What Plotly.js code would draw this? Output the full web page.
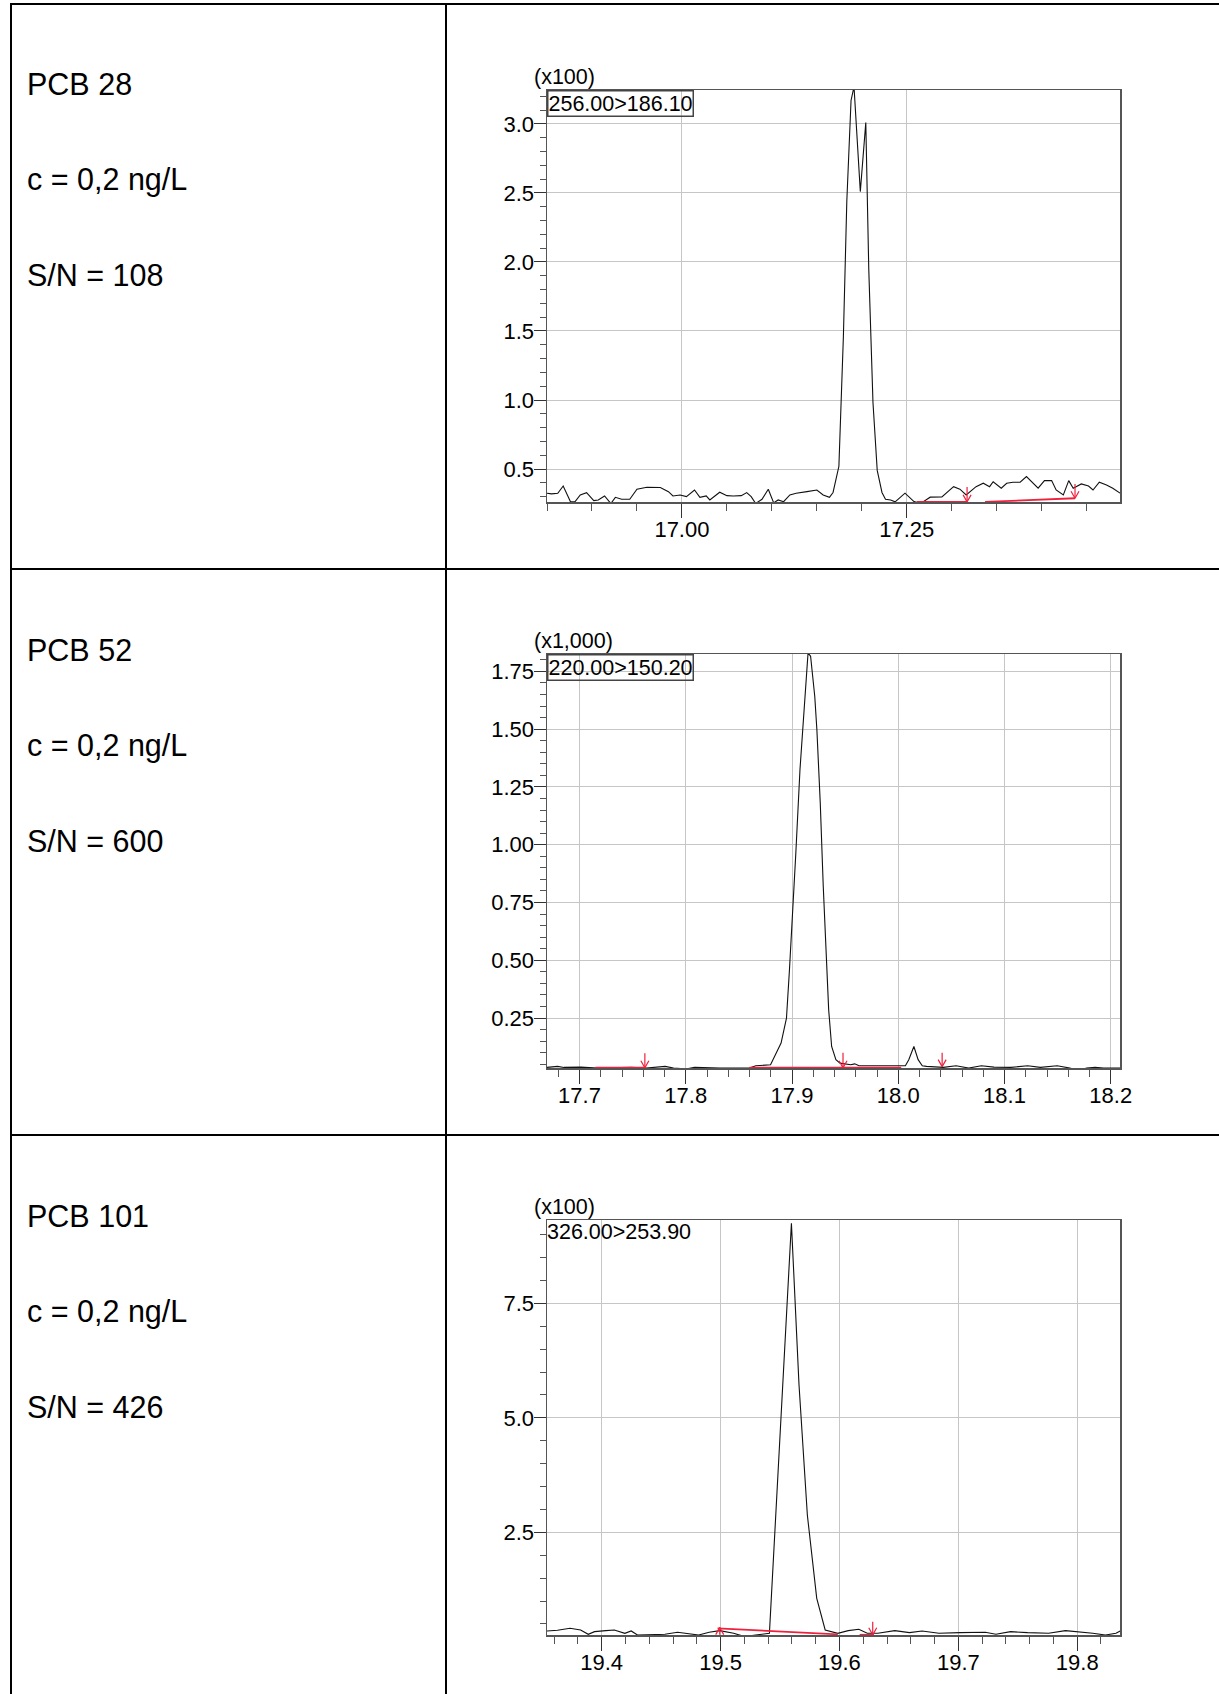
<!DOCTYPE html>
<html>
<head>
<meta charset="utf-8">
<script src="https://cdn.plot.ly/plotly-3.0.1.min.js"></script>
<style>
html,body{margin:0;padding:0;background:#fff;}
#chart{width:1219px;height:1694px;}
</style>
</head>
<body>
<div id="chart"></div>
<script>
// ---------------- data ----------------
const compounds = ['PCB 28', 'PCB 52', 'PCB 101'];
const concentrations = ['c = 0,2 ng/L', 'c = 0,2 ng/L', 'c = 0,2 ng/L'];
const signalToNoise = ['S/N = 108', 'S/N = 600', 'S/N = 426'];
const transitions = ['256.00>186.10', '220.00>150.20', '326.00>253.90'];
const intensityScales = ['(x100)', '(x1,000)', '(x100)'];

// PCB 28 chromatogram (retention time, min / intensity x100)
const pcb28Time = [16.850,16.855,16.862,16.868,16.876,16.881,16.887,16.894,16.902,16.907,16.914,16.921,16.926,16.933,16.942,16.950,16.961,16.976,16.985,16.990,16.998,17.005,17.014,17.020,17.027,17.031,17.042,17.050,17.057,17.066,17.072,17.077,17.082,17.089,17.096,17.102,17.107,17.113,17.120,17.127,17.139,17.150,17.157,17.164,17.168,17.1745,17.1795,17.1833,17.188,17.1913,17.1983,17.2044,17.2077,17.2124,17.2171,17.2224,17.2263,17.232,17.237,17.248,17.258,17.263,17.268,17.276,17.289,17.302,17.309,17.316,17.327,17.335,17.342,17.346,17.355,17.361,17.368,17.376,17.383,17.390,17.396,17.403,17.411,17.416,17.424,17.430,17.435,17.444,17.452,17.457,17.464,17.472,17.479,17.487];
const pcb28Signal = [0.324,0.320,0.324,0.377,0.264,0.262,0.312,0.329,0.271,0.276,0.305,0.250,0.295,0.281,0.281,0.353,0.368,0.366,0.336,0.305,0.312,0.300,0.348,0.295,0.305,0.276,0.332,0.307,0.305,0.307,0.329,0.300,0.250,0.281,0.353,0.255,0.276,0.263,0.312,0.324,0.336,0.348,0.312,0.295,0.330,0.52,1.46,2.44,3.17,3.27,2.51,3.01,1.95,0.98,0.49,0.33,0.281,0.276,0.262,0.325,0.264,0.255,0.262,0.296,0.298,0.372,0.354,0.312,0.372,0.397,0.372,0.408,0.361,0.397,0.404,0.404,0.445,0.397,0.361,0.416,0.416,0.348,0.312,0.416,0.361,0.392,0.377,0.348,0.404,0.384,0.361,0.325];
const pcb28BaselineTime = [17.261, 17.317, null, 17.337, 17.437];
const pcb28BaselineSignal = [0.262, 0.262, null, 0.262, 0.288];
const pcb28MarkerTime = [17.317, 17.437];
const pcb28MarkerTip = [0.262, 0.288];
const pcb28MarkerTail = [0.370, 0.392];

// PCB 52 chromatogram (intensity x1,000)
const pcb52Time = [17.6694,17.6794,17.6853,17.7012,17.7171,17.7329,17.7488,17.7627,17.7726,17.7806,17.7885,17.8004,17.8083,17.8202,17.8321,17.8480,17.8599,17.8659,17.8798,17.8897,17.8948,17.8976,17.9004,17.9036,17.9075,17.9115,17.9151,17.9175,17.9214,17.9234,17.9266,17.9294,17.9325,17.9345,17.9373,17.9413,17.9452,17.9552,17.9590,17.9631,17.9790,17.9948,18.0067,18.0099,18.0147,18.0187,18.0226,18.0266,18.0425,18.0544,18.0663,18.0782,18.0901,18.1060,18.1218,18.1337,18.1496,18.1615,18.1694,18.1774,18.1853,18.1933,18.2087];
const pcb52Signal = [0.0365,0.0409,0.0365,0.0380,0.0337,0.0365,0.0365,0.0337,0.0380,0.0409,0.0337,0.0300,0.0365,0.0337,0.0337,0.0337,0.0337,0.0437,0.0480,0.142,0.250,0.459,0.675,0.964,1.325,1.613,1.830,1.815,1.642,1.498,1.180,0.820,0.459,0.286,0.127,0.070,0.055,0.048,0.052,0.044,0.044,0.044,0.044,0.070,0.127,0.070,0.044,0.041,0.0365,0.0437,0.0337,0.0437,0.0380,0.0365,0.0437,0.0365,0.0437,0.0337,0.0236,0.0337,0.0365,0.0337,0.0337];
const pcb52BaselineTime = [17.715, 17.7627, null, 17.860, 18.0028];
const pcb52BaselineSignal = [0.035, 0.035, null, 0.035, 0.035];
const pcb52MarkerTime = [17.7615, 17.948, 18.0413];
const pcb52MarkerTip = [0.035, 0.035, 0.040];
const pcb52MarkerTail = [0.098, 0.100, 0.100];

// PCB 101 chromatogram (intensity x100)
const pcb101Time = [19.3539,19.3628,19.3734,19.3823,19.3887,19.3940,19.4035,19.4106,19.4195,19.4248,19.4301,19.4390,19.4532,19.4638,19.4745,19.4816,19.4904,19.4993,19.5110,19.5206,19.5294,19.5411,19.5596,19.5660,19.5730,19.5809,19.5880,19.5986,19.6074,19.6163,19.6234,19.6323,19.6465,19.6589,19.6695,19.6837,19.7014,19.7227,19.7316,19.7440,19.7582,19.7759,19.7901,19.8007,19.8131,19.8238,19.8326,19.8362];
const pcb101Signal = [0.346,0.361,0.404,0.368,0.273,0.331,0.353,0.368,0.295,0.346,0.258,0.258,0.273,0.317,0.273,0.258,0.317,0.353,0.295,0.222,0.258,0.295,9.25,5.717,2.878,1.059,0.368,0.295,0.353,0.382,0.295,0.295,0.353,0.309,0.346,0.295,0.309,0.317,0.273,0.331,0.309,0.295,0.353,0.331,0.295,0.258,0.295,0.346];
const pcb101BaselineTime = [19.4975, 19.5986, null, 19.617, 19.629];
const pcb101BaselineSignal = [0.404, 0.273, null, 0.262, 0.262];
const pcb101MarkerTime = [19.4993, 19.628];
const pcb101MarkerTip = [0.420, 0.262];
const pcb101MarkerTail = [0.262, 0.550];

// ---------------- layout helpers ----------------
const W = 1219, H = 1694;
const fx = p => p / W;
const fy = p => 1 - p / H;
const FONT = 'Liberation Sans, Arial, Helvetica, sans-serif';
const BLACK = '#000000';
const RED = '#f0203c';

const panels = [
  {time: pcb28Time, signal: pcb28Signal, bt: pcb28BaselineTime, bs: pcb28BaselineSignal,
   mt: pcb28MarkerTime, mtip: pcb28MarkerTip, mtail: pcb28MarkerTail,
   box: {l: 547, r: 1120, t: 90, b: 502}, xr: [16.85, 17.487], yr: [0.261, 3.246],
   xd: 0.25, x0: 17.0, xf: '.2f', xm: 0.05, yd: 0.5, y0: 0, yf: '.1f', ym: 0.1, boxed: true},
  {time: pcb52Time, signal: pcb52Signal, bt: pcb52BaselineTime, bs: pcb52BaselineSignal,
   mt: pcb52MarkerTime, mtip: pcb52MarkerTip, mtail: pcb52MarkerTail,
   box: {l: 547, r: 1120, t: 654, b: 1068}, xr: [17.6694, 18.2087], yr: [0.034, 1.825],
   xd: 0.1, x0: 17.0, xf: '.1f', xm: 0.02, yd: 0.25, y0: 0, yf: '.2f', ym: 0.05, boxed: true},
  {time: pcb101Time, signal: pcb101Signal, bt: pcb101BaselineTime, bs: pcb101BaselineSignal,
   mt: pcb101MarkerTime, mtip: pcb101MarkerTip, mtail: pcb101MarkerTail,
   box: {l: 547, r: 1120, t: 1220, b: 1635}, xr: [19.354, 19.836], yr: [0.258, 9.32],
   xd: 0.1, x0: 19.0, xf: '.1f', xm: 0.02, yd: 2.5, y0: 0, yf: '.1f', ym: 0.5, boxed: false}
];

const traces = [];
const layout = {
  width: W, height: H,
  margin: {l: 0, r: 0, t: 0, b: 0, pad: 0},
  paper_bgcolor: '#ffffff', plot_bgcolor: '#ffffff',
  showlegend: false,
  font: {family: FONT, color: BLACK, size: 20},
  annotations: [], shapes: []
};

panels.forEach((p, i) => {
  const n = i === 0 ? '' : String(i + 1);
  const xa = 'x' + n, ya = 'y' + n;
  const tickFont = {family: FONT, size: 22, color: BLACK};
  layout['xaxis' + n] = {
    domain: [fx(p.box.l), fx(p.box.r)], anchor: ya, range: p.xr,
    tickmode: 'linear', dtick: p.xd, tick0: p.x0, tickformat: p.xf,
    ticks: 'outside', ticklen: 14, tickwidth: 1, tickcolor: '#333',
    ticklabelstandoff: -7,
    minor: {dtick: p.xm, tick0: p.x0, ticks: 'outside', ticklen: 7, tickwidth: 1, tickcolor: '#555', showgrid: false},
    showgrid: true, gridcolor: '#c6c6c6', gridwidth: 1,
    showline: true, linecolor: '#555', linewidth: 1.5, mirror: true,
    zeroline: false, tickfont: tickFont, layer: 'below traces', fixedrange: true
  };
  layout['yaxis' + n] = {
    domain: [fy(p.box.b), fy(p.box.t)], anchor: xa, range: p.yr,
    tickmode: 'linear', dtick: p.yd, tick0: p.y0, tickformat: p.yf,
    ticks: 'outside', ticklen: 12, tickwidth: 1, tickcolor: '#333',
    ticklabelstandoff: -5,
    minor: {dtick: p.ym, tick0: p.y0, ticks: 'outside', ticklen: 6, tickwidth: 1, tickcolor: '#555', showgrid: false},
    showgrid: true, gridcolor: '#c6c6c6', gridwidth: 1,
    showline: true, linecolor: '#555', linewidth: 1.5, mirror: true,
    zeroline: false, tickfont: tickFont, layer: 'below traces', fixedrange: true
  };

  // chromatogram
  traces.push({type: 'scatter', mode: 'lines', x: p.time, y: p.signal, xaxis: xa, yaxis: ya,
    line: {color: '#111', width: 1.1}, hoverinfo: 'skip'});
  // integration baseline
  traces.push({type: 'scatter', mode: 'lines', x: p.bt, y: p.bs, xaxis: xa, yaxis: ya,
    connectgaps: false, line: {color: RED, width: 1.8}, hoverinfo: 'skip'});
  // peak start/end markers (arrow glyphs), head size expressed in pixels via the axis scale
  const xPerPx = (p.xr[1] - p.xr[0]) / (p.box.r - p.box.l);
  const yPerPx = (p.yr[1] - p.yr[0]) / (p.box.b - p.box.t);
  const ax = [], ay = [];
  p.mt.forEach((t, k) => {
    const tip = p.mtip[k], tail = p.mtail[k];
    const s = tail > tip ? 1 : -1;
    ax.push(t, t, null, t - 4 * xPerPx, t, t + 4 * xPerPx, null);
    ay.push(tail, tip, null, tip + s * 7 * yPerPx, tip, tip + s * 7 * yPerPx, null);
  });
  traces.push({type: 'scatter', mode: 'lines', x: ax, y: ay, xaxis: xa, yaxis: ya,
    connectgaps: false, line: {color: RED, width: 1.2}, hoverinfo: 'skip'});

  // intensity scale label above plot
  layout.annotations.push({xref: 'paper', yref: 'paper', x: fx(532), y: fy(p.box.t + 1),
    xanchor: 'left', yanchor: 'bottom', text: intensityScales[i], showarrow: false,
    font: {family: FONT, size: 21.5, color: BLACK}});
  // MRM transition label in top-left corner
  layout.annotations.push({xref: xa + ' domain', yref: ya + ' domain', x: 0, y: 1,
    xanchor: 'left', yanchor: 'top', text: transitions[i], showarrow: false,
    font: {family: FONT, size: 21.5, color: BLACK},
    bordercolor: p.boxed ? '#444' : 'rgba(0,0,0,0)', borderwidth: p.boxed ? 1.5 : 0, borderpad: 0,
    bgcolor: 'rgba(255,255,255,0)'});

  // left column text
  const rowTop = [3, 569, 1135][i];
  [compounds[i], concentrations[i], signalToNoise[i]].forEach((txt, k) => {
    layout.annotations.push({xref: 'paper', yref: 'paper', x: fx(25), y: fy(rowTop + 81 + 95.5 * k),
      xanchor: 'left', yanchor: 'middle', text: txt, showarrow: false,
      font: {family: FONT, size: 30.5, color: BLACK}});
  });
});

// table rules
const rule = (x0, y0, x1, y1) => ({type: 'line', xref: 'paper', yref: 'paper',
  x0: fx(x0), y0: fy(y0), x1: fx(x1), y1: fy(y1), line: {color: '#000', width: 2}});
layout.shapes.push(rule(11, 4, 1219, 4));
layout.shapes.push(rule(11, 3, 11, 1694));
layout.shapes.push(rule(446, 3, 446, 1694));
layout.shapes.push(rule(11, 569, 1219, 569));
layout.shapes.push(rule(11, 1135, 1219, 1135));

Plotly.newPlot('chart', traces, layout, {staticPlot: true, displayModeBar: false});
</script>
</body>
</html>
